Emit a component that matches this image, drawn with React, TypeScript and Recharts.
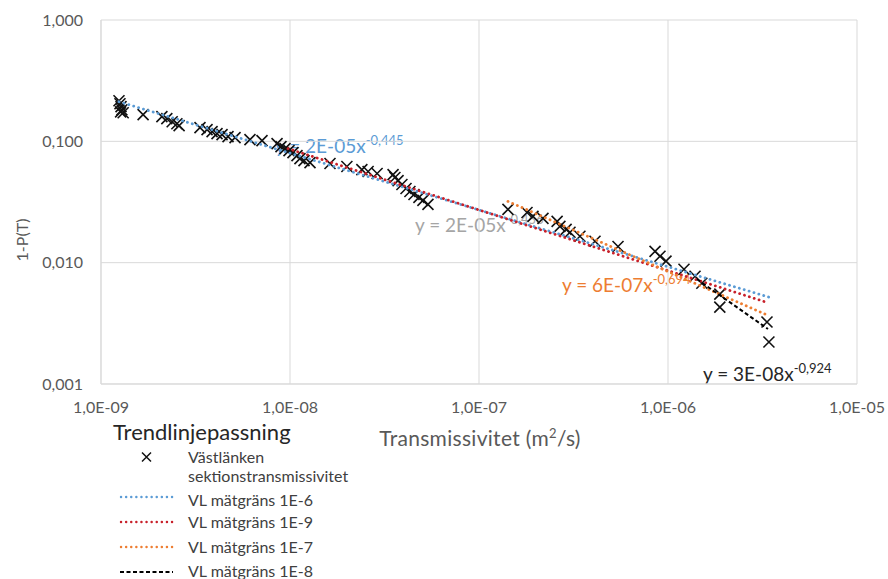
import React from "react";
import { ScatterChart, Scatter, XAxis, YAxis, CartesianGrid } from "recharts";

// Section transmissivity (m²/s) and 1-P(T)
const transmissivity = [
  1.245e-9, 1.26e-9, 1.276e-9, 1.29e-9, 1.27e-9, 1.31e-9, 1.67e-9, 2.1e-9, 2.23e-9, 2.38e-9,
  2.52e-9, 2.59e-9, 3.34e-9, 3.64e-9, 3.87e-9, 4.11e-9, 4.37e-9, 4.7e-9, 5.12e-9, 6.14e-9,
  7.11e-9, 8.54e-9, 8.96e-9, 9.41e-9, 9.88e-9, 1.037e-8, 1.089e-8, 1.129e-8, 1.186e-8, 1.276e-8,
  1.628e-8, 2.0e-8, 2.4e-8, 2.59e-8, 2.89e-8, 3.51e-8, 3.59e-8, 3.73e-8, 3.91e-8, 4.11e-8,
  4.31e-8, 4.53e-8, 4.81e-8, 5.05e-8, 5.37e-8, 1.423e-7, 1.795e-7, 1.93e-7, 2.18e-7, 2.59e-7,
  2.68e-7, 2.89e-7, 3.03e-7, 3.42e-7, 4.11e-7, 5.44e-7, 8.54e-7, 9.07e-7, 9.76e-7, 1.215e-6,
  1.39e-6, 1.51e-6, 1.88e-6, 1.88e-6, 3.34e-6, 3.42e-6,
];
const oneMinusP = [
  0.216, 0.204, 0.193, 0.182, 0.175, 0.172, 0.166, 0.16, 0.1537, 0.145,
  0.1397, 0.1346, 0.1296, 0.1248, 0.1202, 0.1157, 0.1135, 0.1093, 0.1072, 0.1033,
  0.1013, 0.0957, 0.0905, 0.0871, 0.0839, 0.0808, 0.0763, 0.0721, 0.0694, 0.0668,
  0.0656, 0.062, 0.0585, 0.0564, 0.0543, 0.0532, 0.0503, 0.0475, 0.0441, 0.0409,
  0.0386, 0.0365, 0.0345, 0.0326, 0.0302, 0.0275, 0.0259, 0.0241, 0.0232, 0.0219,
  0.0199, 0.0188, 0.0178, 0.0165, 0.015, 0.0136, 0.0124, 0.0113, 0.0103, 0.00883,
  0.00773, 0.00677, 0.0055, 0.0043, 0.00324, 0.00222,
];

// Trendline end points
const trend1E6X = [1.245e-9, 3.42e-6];
const trend1E6Y = [0.212, 0.0052];
const trend1E9X = [9.76e-9, 3.3e-6];
const trend1E9Y = [0.0871, 0.00473];
const trend1E7X = [1.423e-7, 3.26e-6];
const trend1E7Y = [0.032, 0.00377];
const trend1E8X = [1.424e-6, 3.38e-6];
const trend1E8Y = [0.0073, 0.00284];

const xTicks = [1e-9, 1e-8, 1e-7, 1e-6, 1e-5];
const yTicks = [0.001, 0.01, 0.1, 1];

const legendLabels = [
  "Västlänken",
  "sektionstransmissivitet",
  "VL mätgräns 1E-6",
  "VL mätgräns 1E-9",
  "VL mätgräns 1E-7",
  "VL mätgräns 1E-8",
];

const zip = (xs: number[], ys: number[]) => xs.map((x, i) => ({ x, y: ys[i] }));
const points = zip(transmissivity, oneMinusP);

const FONT = "Lato, 'Noto Sans', sans-serif";
const GREY = "#595959";
const BLUE = "#5B9BD5";
const RED = "#C8202A";
const ORANGE = "#ED7D31";

const fmtX = (v: number) => {
  const e = Math.round(-Math.log10(v));
  return "1,0E-" + String(e).padStart(2, "0");
};
const fmtY = (v: number) => v.toFixed(3).replace(".", ",");

const XMark = (props: any) => {
  const { cx, cy } = props;
  if (cx == null || cy == null) return <g />;
  const r = 5.5;
  return (
    <path
      d={`M${cx - r},${cy - r}L${cx + r},${cy + r}M${cx - r},${cy + r}L${cx + r},${cy - r}`}
      stroke="#111"
      strokeWidth={1.6}
      fill="none"
    />
  );
};
const Nothing = () => <g />;

const dotted = (c: string) => ({
  stroke: c,
  strokeWidth: 2.8,
  strokeDasharray: "0.1 5",
  strokeLinecap: "round" as const,
});

export default function App() {
  return (
    <div style={{ position: "absolute", left: 0, top: 0, width: 888, height: 579, background: "#fff", overflow: "hidden" }}>
      {/* trendline equations (drawn beneath the marks) */}
      <svg width={888} height={579} style={{ position: "absolute", left: 0, top: 0 }} fontFamily={FONT}>
        <text x={275} y={153} fontSize={19} fill={BLUE}>
          y = 2E-05x<tspan dy={-8} fontSize={13}>-0,445</tspan>
        </text>
        <text x={415} y={232} fontSize={19} fill="#A5A5A5">
          y = 2E-05x<tspan dy={-8} fontSize={13}>-0,456</tspan>
        </text>
        <text x={562} y={292} fontSize={19} fill={ORANGE}>
          y = 6E-07x<tspan dy={-8} fontSize={13}>-0,694</tspan>
        </text>
        <text x={703} y={381} fontSize={19} fill="#262626">
          y = 3E-08x<tspan dy={-8} fontSize={13}>-0,924</tspan>
        </text>
      </svg>
      <div style={{ position: "absolute", left: 0, top: 0 }}>
        <ScatterChart width={888} height={579} margin={{ top: 20, right: 31, bottom: 165, left: 0 }}>
          <CartesianGrid stroke="#d9d9d9" strokeWidth={1} />
          <XAxis
            type="number"
            dataKey="x"
            scale="log"
            domain={[1e-9, 1e-5]}
            ticks={xTicks}
            tickFormatter={fmtX}
            allowDataOverflow
            height={30}
            tickLine={false}
            axisLine={{ stroke: "#d9d9d9" }}
            tickMargin={12}
            tick={{ fill: GREY, fontSize: 16, fontFamily: FONT }}
            interval={0}
          />
          <YAxis
            type="number"
            dataKey="y"
            scale="log"
            domain={[0.001, 1]}
            ticks={yTicks}
            tickFormatter={fmtY}
            allowDataOverflow
            width={101}
            tickLine={false}
            axisLine={{ stroke: "#d9d9d9" }}
            tickMargin={12}
            tick={{ fill: GREY, fontSize: 16, fontFamily: FONT }}
            interval={0}
          />
          <Scatter data={points} shape={XMark} isAnimationActive={false} />
          <Scatter data={zip(trend1E6X, trend1E6Y)} shape={Nothing} line={dotted(BLUE)} isAnimationActive={false} />
          <Scatter data={zip(trend1E9X, trend1E9Y)} shape={Nothing} line={dotted(RED)} isAnimationActive={false} />
          <Scatter data={zip(trend1E7X, trend1E7Y)} shape={Nothing} line={dotted(ORANGE)} isAnimationActive={false} />
          <Scatter
            data={zip(trend1E8X, trend1E8Y)}
            shape={Nothing}
            line={{ stroke: "#000", strokeWidth: 2, strokeDasharray: "4 2.5" }}
            isAnimationActive={false}
          />
        </ScatterChart>
      </div>
      {/* axis titles and legend */}
      <svg width={888} height={579} style={{ position: "absolute", left: 0, top: 0, pointerEvents: "none" }} fontFamily={FONT}>
        <text x={480} y={446} fontSize={21} letterSpacing={0.3} fill={GREY} textAnchor="middle">
          Transmissivitet (m<tspan dy={-8} fontSize={13}>2</tspan><tspan dy={8}>/s)</tspan>
        </text>
        <text transform="translate(28,240) rotate(-90)" fontSize={16} fill={GREY} textAnchor="middle">
          1-P(T)
        </text>
        <text x={113} y={440} fontSize={22} fill="#262626">Trendlinjepassning</text>
        <path d="M142,452.5L151,461.5M142,461.5L151,452.5" stroke="#111" strokeWidth={1.5} />
        <line x1={121} y1={497} x2={173} y2={497} {...dotted(BLUE)} strokeWidth={2.4} />
        <line x1={121} y1={522} x2={173} y2={522} {...dotted(RED)} strokeWidth={2.4} />
        <line x1={121} y1={547} x2={173} y2={547} {...dotted(ORANGE)} strokeWidth={2.4} />
        <line x1={120} y1={572} x2={173} y2={572} stroke="#000" strokeWidth={1.8} strokeDasharray="4 2.5" />
        {legendLabels.map((t, i) => (
          <text key={t} x={188} y={[463, 482, 506, 528, 553, 577][i]} fontSize={16} fill="#404040">
            {t}
          </text>
        ))}
      </svg>
    </div>
  );
}
